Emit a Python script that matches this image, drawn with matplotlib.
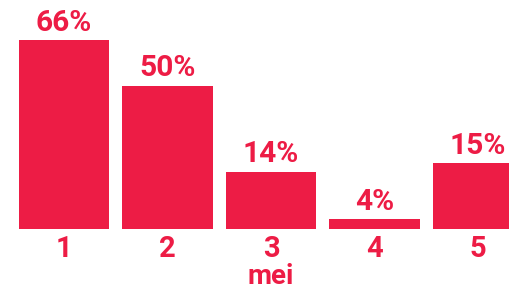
import matplotlib.pyplot as plt
from matplotlib.transforms import offset_copy

# data
categories = ["1", "2", "3", "4", "5"]
heights = [66, 50, 20, 3.5, 23]
labels = ["66%", "50%", "14%", "4%", "15%"]

RED = "#ED1C45"
FONT = "Roboto"

fig = plt.figure(figsize=(5.1, 2.94), dpi=100)
ax = fig.add_axes([0, 0.221, 1, 0.779])

x = list(range(len(categories)))
bars = ax.bar(x, heights, width=0.87, color=RED)

ax.set_xlim(-0.618, 4.309)
ax.set_ylim(0, 80)

# percentage labels above bars
for b, lab in zip(bars, labels):
    tr = offset_copy(ax.transData, fig=fig, x=0, y=2.5, units="points")
    ax.text(b.get_x() + b.get_width() / 2, b.get_height(), lab,
            ha="center", va="bottom", color=RED, fontsize=21.5,
            fontweight="bold", family=FONT, transform=tr)

ax.set_xticks(x)
ax.set_xticklabels(categories, color=RED, fontsize=21, fontweight="bold", family=FONT)
ax.tick_params(axis="x", length=0, pad=4)
ax.set_yticks([])
for s in ax.spines.values():
    s.set_visible(False)

ax.set_xlabel("mei", color=RED, fontsize=20, fontweight="bold", family=FONT)
ax.xaxis.set_label_coords(271 / 510, -0.15)

fig.savefig("out.png", dpi=100)
